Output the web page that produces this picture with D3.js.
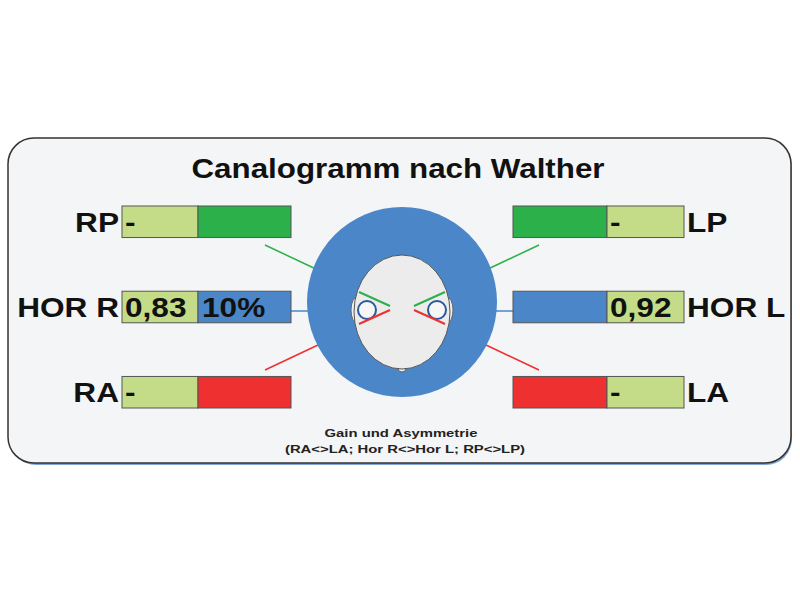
<!DOCTYPE html><html><head><meta charset="utf-8">
<script src="https://cdn.jsdelivr.net/npm/d3@7"></script>
<style>body{margin:0;background:#fff}</style></head><body><svg id="c" width="800" height="600"></svg>
<script>
const rows=["P","HOR","A"];
const leftLabels=["RP","HOR R","RA"];
const rightLabels=["LP","HOR L","LA"];
const leftValues=["-","0,83","-"];
const leftPercent=["","10%",""];
const rightValues=["-","0,92","-"];
const rowColors=["#2bb04a","#4a86c8","#ee3030"];
const svg=d3.select("#c");
const F="Liberation Sans, Arial, sans-serif";
const y=d3.scaleBand().domain(rows).range([206,408]).paddingInner(0.63);
const cx=402,cy=302;
function stretch(sel,k){const n=sel.node();const L=n.getComputedTextLength();sel.attr("textLength",L*k).attr("lengthAdjust","spacingAndGlyphs");return sel;}
svg.append("rect").attr("x",10).attr("y",141).attr("width",782).attr("height",324).attr("rx",26).attr("fill","#7fa6d6");
svg.append("rect").attr("x",8).attr("y",138).attr("width",783).attr("height",325).attr("rx",26).attr("fill","#f4f5f6").attr("stroke","#333").attr("stroke-width",1.5);
stretch(svg.append("text").attr("x",398).attr("y",178).attr("text-anchor","middle").attr("font-family",F).attr("font-weight","bold").attr("font-size",27).attr("fill","#111").text("Canalogramm nach Walther"),1.16);
const lines=[[265,245,318,270],[291,311,310,311],[265,370,318,345]];
lines.forEach((l,i)=>{svg.append("line").attr("x1",l[0]).attr("y1",l[1]).attr("x2",l[2]).attr("y2",l[3]).attr("stroke",rowColors[i]).attr("stroke-width",1.5);
svg.append("line").attr("x1",800-l[0]+4).attr("y1",l[1]).attr("x2",800-l[2]+4).attr("y2",l[3]).attr("stroke",rowColors[i]).attr("stroke-width",1.5);});
rows.forEach((r,i)=>{
  const yy=y(r),h=y.bandwidth();
  svg.append("rect").attr("x",122).attr("y",yy).attr("width",76).attr("height",h).attr("fill","#c4dc88").attr("stroke","#555");
  svg.append("rect").attr("x",198).attr("y",yy).attr("width",93).attr("height",h).attr("fill",rowColors[i]).attr("stroke","#555");
  svg.append("rect").attr("x",513).attr("y",yy).attr("width",94).attr("height",h).attr("fill",rowColors[i]).attr("stroke","#555");
  svg.append("rect").attr("x",607).attr("y",yy).attr("width",77).attr("height",h).attr("fill","#c4dc88").attr("stroke","#555");
  const ty=yy+h/2+10;
  const t=(x,s,a)=>{if(!s)return;stretch(svg.append("text").attr("x",x).attr("y",ty).attr("text-anchor",a).attr("font-family",F).attr("font-weight","bold").attr("font-size",27).attr("fill","#111").text(s),1.17);};
  t(119,leftLabels[i],"end");t(125,leftValues[i],"start");t(202,leftPercent[i],"start");
  t(610,rightValues[i],"start");t(687,rightLabels[i],"start");
});
svg.append("circle").attr("cx",cx).attr("cy",cy).attr("r",95).attr("fill","#4a86c8");
const g=svg.append("g");
g.append("ellipse").attr("cx",cx-45).attr("cy",cy+8).attr("rx",6).attr("ry",13).attr("fill","#eee").attr("stroke","#666");
g.append("ellipse").attr("cx",cx+45).attr("cy",cy+8).attr("rx",6).attr("ry",13).attr("fill","#eee").attr("stroke","#666");
g.append("ellipse").attr("cx",cx).attr("cy",cy+66).attr("rx",4).attr("ry",4).attr("fill","#eee").attr("stroke","#666");
g.append("ellipse").attr("cx",cx).attr("cy",cy+10).attr("rx",48).attr("ry",57).attr("fill","#ececec").attr("stroke","#555");
g.append("circle").attr("cx",cx-35).attr("cy",cy+8).attr("r",9).attr("fill","#f6f6f6").attr("stroke","#2a5a9a").attr("stroke-width",2);
g.append("circle").attr("cx",cx+35).attr("cy",cy+8).attr("r",9).attr("fill","#f6f6f6").attr("stroke","#2a5a9a").attr("stroke-width",2);
[-1,1].forEach(s=>{
  g.append("line").attr("x1",cx+s*43).attr("y1",cy-10).attr("x2",cx+s*12).attr("y2",cy+4).attr("stroke","#2bb04a").attr("stroke-width",2);
  g.append("line").attr("x1",cx+s*43).attr("y1",cy+22).attr("x2",cx+s*12).attr("y2",cy+8).attr("stroke","#ee3030").attr("stroke-width",2);
});
stretch(svg.append("text").attr("x",401).attr("y",437).attr("text-anchor","middle").attr("font-family",F).attr("font-weight","bold").attr("font-size",11).attr("fill","#222").text("Gain und Asymmetrie"),1.35);
stretch(svg.append("text").attr("x",405).attr("y",453).attr("text-anchor","middle").attr("font-family",F).attr("font-weight","bold").attr("font-size",11).attr("fill","#222").text("(RA<>LA; Hor R<>Hor L; RP<>LP)"),1.35);
</script></body></html>
